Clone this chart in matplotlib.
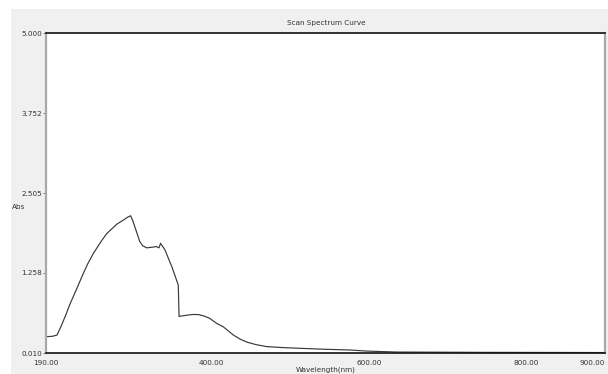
import matplotlib
matplotlib.use('Agg')
from matplotlib import pyplot as plt
from matplotlib.patches import Rectangle

# spectrum
wavelength = [190, 198, 204, 210, 216, 220, 225, 230, 237, 243, 250, 260, 267,
              280, 288, 294, 297.5, 300, 305, 309, 313, 318, 325,
              330, 333.5, 335.5, 341, 350, 358, 359, 364, 369, 376,
              383, 390, 398, 407, 415, 428, 436, 445, 457, 470,
              490, 513, 545, 576, 597, 635, 700, 741, 800, 860, 900]
absorbance = [0.265, 0.27, 0.29, 0.45, 0.63, 0.76, 0.90, 1.04, 1.24, 1.40, 1.56, 1.75, 1.87,
              2.02, 2.08, 2.13, 2.15, 2.08, 1.90, 1.75, 1.68, 1.65, 1.66,
              1.67, 1.65, 1.72, 1.62, 1.35, 1.07, 0.58, 0.59, 0.60, 0.61,
              0.61, 0.59, 0.55, 0.47, 0.42, 0.29, 0.23, 0.18, 0.14, 0.11,
              0.095, 0.083, 0.068, 0.057, 0.04, 0.025, 0.022, 0.02, 0.019, 0.018, 0.017]

y_ticks = [0.010, 1.258, 2.505, 3.752, 5.000]
x_ticks = [190, 400, 600, 800, 900]

fam = ['Liberation Sans Narrow', 'DejaVu Sans']
txt = '#333333'
fs = 5.2

W, H = 608, 374
fig = plt.figure(figsize=(W / 100, H / 100), dpi=100)
fig.patch.set_facecolor('white')
bg = Rectangle((11 / W, 0), 1, (H - 9) / H, transform=fig.transFigure,
               facecolor='#f0f0f0', edgecolor='none', zorder=-10)
fig.add_artist(bg)

ax = fig.add_axes([46 / W, (H - 353) / H, (605 - 46) / W, (353 - 33) / H])
ax.set_zorder(5)
ax.set_facecolor('white')
ax.plot(wavelength, absorbance, color='#383838', lw=0.85)

ax.set_xlim(190, 900)
ax.set_ylim(0.010, 5.000)
ax.set_yticks(y_ticks)
ax.set_yticklabels(['%.3f' % v for v in y_ticks], family=fam, fontsize=fs, color=txt)
ax.set_xticks(x_ticks)
xl = ax.set_xticklabels(['%.2f' % v for v in x_ticks], family=fam, fontsize=fs, color=txt)
xl[-1].set_ha('right')
ax.tick_params(axis='y', length=2, width=0.6, pad=1, color='#666666')
ax.tick_params(axis='x', length=0, pad=5)

for s in ['top', 'bottom']:
    ax.spines[s].set_color('#111111')
    ax.spines[s].set_linewidth(1.2)
for s in ['left', 'right']:
    ax.spines[s].set_color('#a8a8a8')
    ax.spines[s].set_linewidth(1.6)

fig.text(326 / W, (H - 23) / H, 'Scan Spectrum Curve', family=fam, fontsize=fs,
         color=txt, ha='center', va='center')
fig.text(12 / W, (H - 207) / H, 'Abs', family=fam, fontsize=fs,
         color=txt, ha='left', va='center')
fig.text(326 / W, 1 / H, 'Wavelength(nm)', family=fam, fontsize=fs,
         color=txt, ha='center', va='bottom')

fig.savefig('out.png', dpi=100)
